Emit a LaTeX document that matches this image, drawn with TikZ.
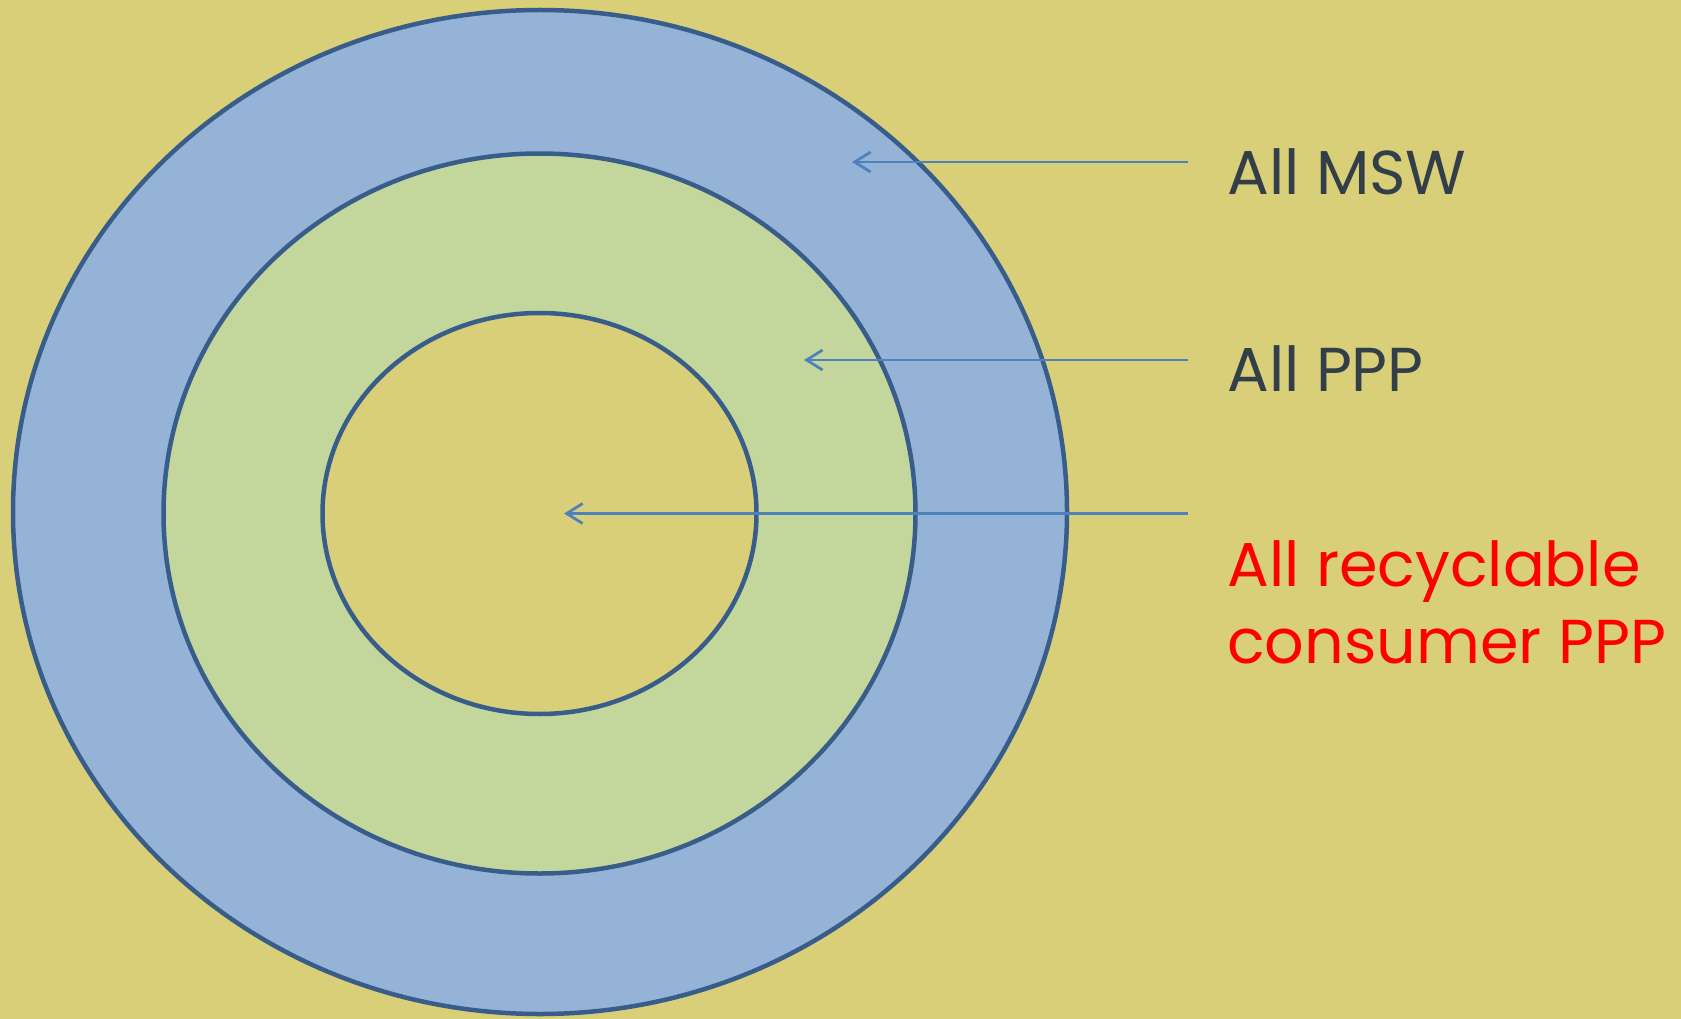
\documentclass[tikz,border=0pt]{standalone}
\usepackage{fontspec}
\setmainfont{Poppins}
\usetikzlibrary{shapes.geometric,arrows.meta}
\definecolor{bgc}{RGB}{217,207,120}
\definecolor{bluefill}{RGB}{149,179,215}
\definecolor{greenfill}{RGB}{195,214,155}
\definecolor{ringline}{RGB}{56,93,138}
\definecolor{arrowc}{RGB}{79,129,189}
\definecolor{txt}{RGB}{51,63,72}
\tikzset{
  ring/.style={ellipse, draw=ringline, line width=4.5pt, inner sep=0pt},
  pointer/.style={draw=arrowc, line width=2.8pt, -{Straight Barb[length=16pt,width=20pt,line width=2.8pt]}},
  lbl/.style={anchor=base west, inner sep=0pt, font=\fontsize{62}{77}\selectfont, text=txt},
}
\begin{document}
\begin{tikzpicture}[x=1pt,y=-1pt]
\fill[bgc] (0,0) rectangle (1681,1019);
\useasboundingbox (0,0) rectangle (1681,1019);
\node[ring, fill=bluefill, minimum width=1054pt, minimum height=1004pt] (outer) at (540,512) {};
\node[ring, fill=greenfill, minimum width=752pt, minimum height=720pt] (middle) at (539.5,513.5) {};
\node[ring, fill=bgc, minimum width=434pt, minimum height=401pt] (inner) at (539.5,513.5) {};
\coordinate (s1) at (1188,162);
\coordinate (s2) at (1188,360);
\coordinate (s3) at (1188,513.5);
\coordinate (t1) at (852,162);
\coordinate (t2) at (804,360);
\coordinate (t3) at (564,513.5);
\draw[pointer] (s1) -- (t1);
\draw[pointer] (s2) -- (t2);
\draw[pointer] (s3) -- (t3);
\node[lbl] (msw) at (1227,195) {All MSW};
\node[lbl] (ppp) at (1227,391) {All PPP};
\node[lbl, text=red, align=left] (rec) at (1227,663) {All recyclable\\consumer PPP};
\end{tikzpicture}
\end{document}
